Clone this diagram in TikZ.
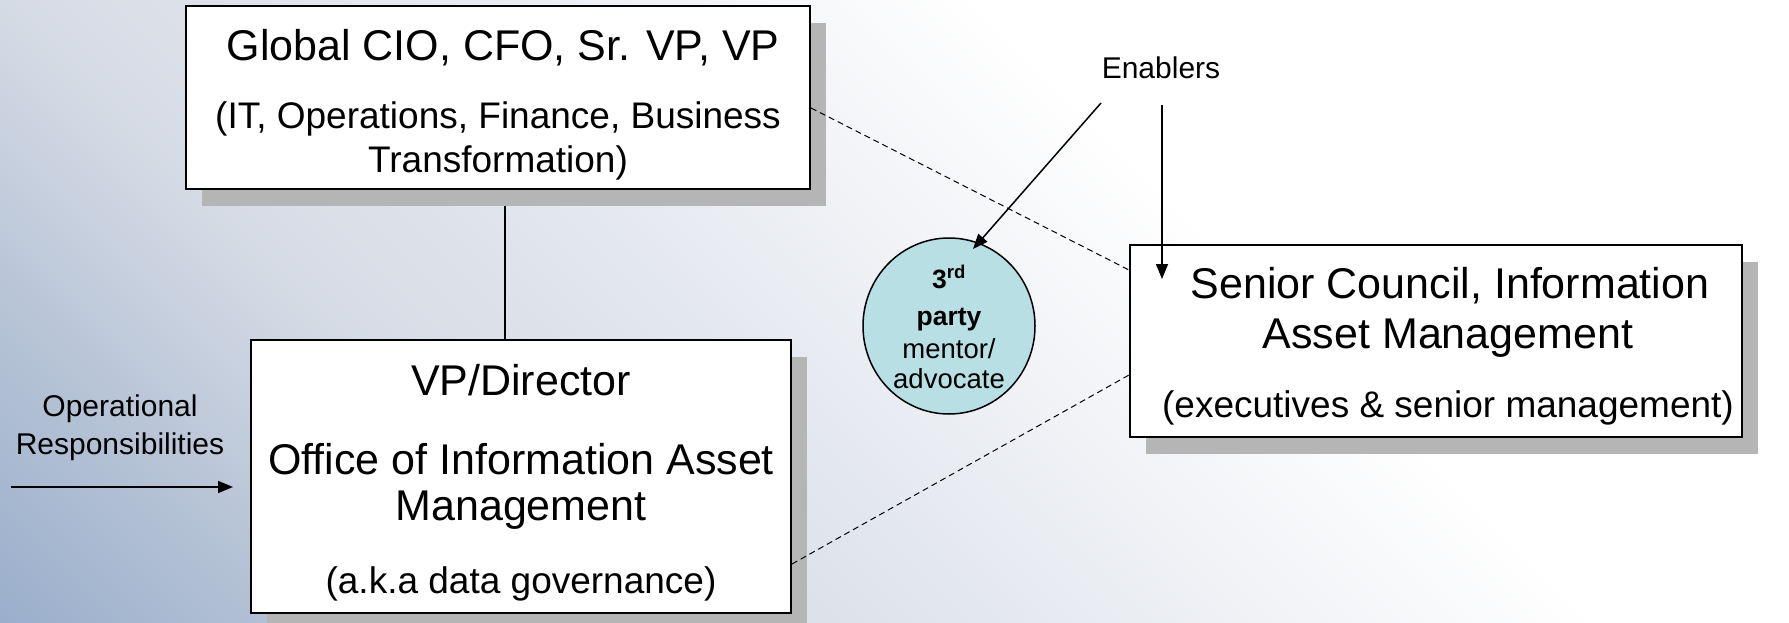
\documentclass[tikz,border=0pt]{standalone}
\usepackage{fontspec}
\setmainfont{Liberation Sans}
\usetikzlibrary{arrows.meta,shadows,shapes.geometric}
\definecolor{bgA}{HTML}{9AAECB}
\definecolor{bgM}{HTML}{B6C3D6}
\definecolor{bgB}{HTML}{D5DBE5}
\definecolor{bgC}{HTML}{E0E4EC}
\definecolor{shadowc}{HTML}{B5B5B5}
\definecolor{circfill}{HTML}{B8E0E4}
\pgfdeclarehorizontalshading{bgsh}{100bp}{color(0bp)=(bgA); color(25.56bp)=(bgA); color(31.8bp)=(bgM); color(38bp)=(bgB); color(43.7bp)=(bgC); color(57.5bp)=(white); color(100bp)=(white)}
\pgfdeclarelayer{back}
\pgfdeclarelayer{mid}
\pgfsetlayers{back,mid,main}
\begin{document}
\begin{tikzpicture}[x=1pt,y=-1pt,
  box/.style={draw=black, line width=2pt, fill=white, inner sep=0pt,
    drop shadow={shadow xshift=16pt, shadow yshift=-17pt, fill=shadowc, opacity=1}},
  circ/.style={ellipse, draw=black, line width=1.5pt, fill=circfill, inner sep=0pt,
    minimum width=172pt, minimum height=176pt},
  tbig/.style={anchor=base, inner sep=0pt, font=\fontsize{43}{48}\selectfont},
  tsmall/.style={anchor=base, inner sep=0pt, font=\fontsize{37}{42}\selectfont},
  cbold/.style={anchor=base, inner sep=0pt, font=\fontsize{26.5}{30}\selectfont\bfseries},
  creg/.style={anchor=base, inner sep=0pt, font=\fontsize{27.5}{30}\selectfont},
  lbl/.style={anchor=base, inner sep=0pt, font=\fontsize{30}{34}\selectfont},
  conn/.style={line width=1.5pt},
  arr/.style={line width=1.5pt, -{Triangle[length=15pt,width=12pt]}},
  dsh/.style={line width=1pt, dash pattern=on 6pt off 4pt}]
\useasboundingbox (0,0) rectangle (1789,623);
\begin{pgfonlayer}{back}
\begin{scope}
\clip (0,0) rectangle (1789,623);
\begin{scope}[transform canvas={shift={(0pt,-623pt)},rotate=45}]
\shade[shading=bgsh] (-20pt,-1300pt) rectangle (1750pt,480pt);
\end{scope}
\end{scope}
\end{pgfonlayer}
% boxes
\node[box, minimum width=624pt, minimum height=183pt] (tb) at (498,97.5) {};
\node[box, minimum width=540pt, minimum height=273pt] (bb) at (521,476.5) {};
\node[box, minimum width=612pt, minimum height=192pt] (rb) at (1436,341) {};
\node[circ] (cp) at (949,326) {};
% texts
\node[tbig] (t1) at (503,61) {Global CIO, CFO, Sr. VP, VP};
\node[tsmall] (t2) at (498,129) {(IT, Operations, Finance, Business};
\node[tsmall] (t3) at (498,173) {Transformation)};
\node[tbig] (b1) at (521,395) {VP/Director};
\node[tbig] (b2) at (521,474) {Office of Information Asset};
\node[tbig] (b3) at (521,520) {Management};
\node[tsmall] (b4) at (521,593) {(a.k.a data governance)};
\node[tbig] (r1) at (1450,298) {Senior Council, Information};
\node[tbig] (r2) at (1448,348) {Asset Management};
\node[tsmall] (r3) at (1448,417) {(executives \& senior management)};
\node[cbold] (c1) at (949,288) {3\textsuperscript{rd}};
\node[cbold] (c2) at (949,325) {party};
\node[creg] (c3) at (949,358) {mentor/};
\node[creg] (c4) at (949,388) {advocate};
\node[lbl] (en) at (1161,79) {Enablers};
\node[lbl] (op1) at (120,416) {Operational};
\node[lbl] (op2) at (120,454) {Responsibilities};
% connectors
\coordinate (lx) at (505,0);
\coordinate (e1) at (1101,103);
\coordinate (e2) at (1162,105);
\coordinate (o1) at (11,487);
\begin{pgfonlayer}{mid}
\draw[conn] (tb.south -| lx) -- (bb.north -| lx);
\end{pgfonlayer}
\draw[dsh] ([yshift=-10.5pt]tb.east) -- ([yshift=71pt]rb.west);
\draw[dsh] ([yshift=-87.5pt]bb.east) -- ([yshift=-34pt]rb.west);
\draw[arr] (e1) -- ([xshift=24pt,yshift=77pt]cp.center);
\draw[arr, shorten >=-35pt] (e2) -- (e2 |- rb.north);
\draw[arr, shorten >=17pt] (o1) -- (o1 -| bb.west);
\end{tikzpicture}
\end{document}
